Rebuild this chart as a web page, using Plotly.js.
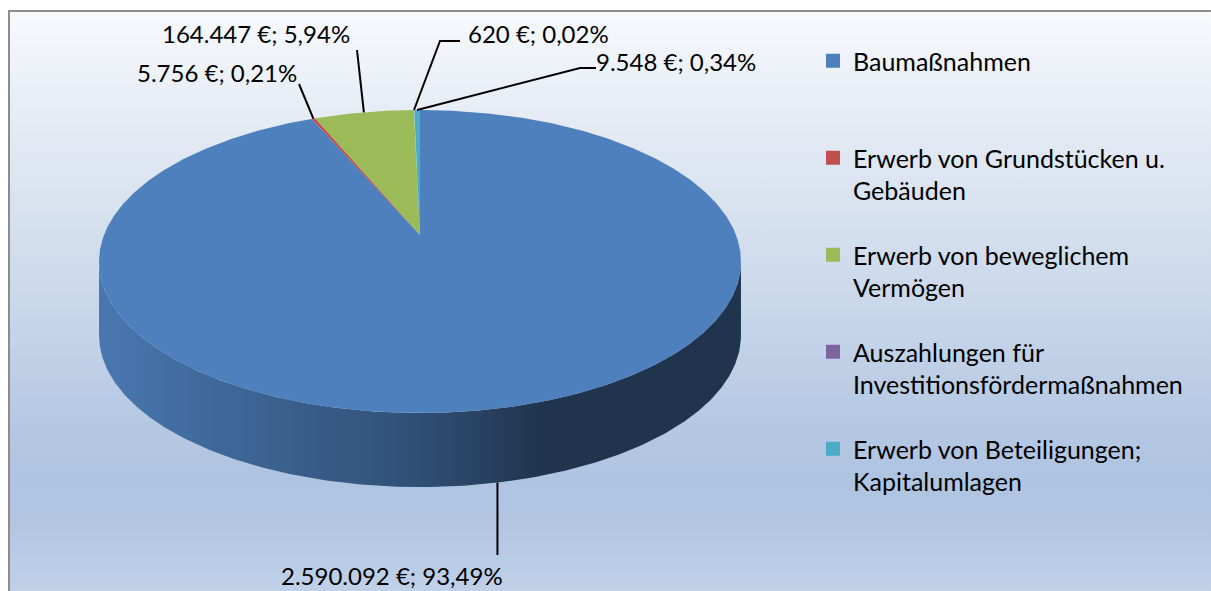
<!DOCTYPE html>
<html><head><meta charset="utf-8">
<script src="https://cdn.plot.ly/plotly-3.0.1.min.js"></script>
<style>
html,body{margin:0;padding:0;width:1211px;height:591px;overflow:hidden;background:#fff;}
#frame{position:absolute;left:8px;top:10px;width:1260px;height:581px;border-left:2px solid #8c8c8c;border-top:2px solid #8c8c8c;
background:linear-gradient(to bottom,#f7f9fd 0%,#e2e9f3 22%,#cbd9eb 48%,#b6c9e3 70%,#afc4e1 80%,#b2c6e2 88%,#c0d1e8 100%);}
#chart{position:absolute;left:0;top:0;width:1211px;height:591px;}
</style></head><body><div id="frame"></div><div id="chart"></div>
<script>
// ---- data ----
const categories = ["Baumaßnahmen","Erwerb von Grundstücken u. Gebäuden","Erwerb von beweglichem Vermögen","Auszahlungen für Investitionsfördermaßnahmen","Erwerb von Beteiligungen; Kapitalumlagen"];
const legendLabels = ["Baumaßnahmen<br> ","Erwerb von Grundstücken u.<br>Gebäuden","Erwerb von beweglichem<br>Vermögen","Auszahlungen für<br>Investitionsfördermaßnahmen","Erwerb von Beteiligungen;<br>Kapitalumlagen"];
const values = [2590092, 5756, 164447, 620, 9548];
const colors = ["#4d80bc","#c0504d","#9bbb59","#8064a2","#4bacc6"];

// ---- geometry (pixel space, perspective-projected pie) ----
const G = {cx:420, cy:235, c:316, b:-105.76, k:0.175, depth:74};
const FONT = "Lato, 'Open Sans', sans-serif";
function proj(deg){
  const t = deg*Math.PI/180, u=Math.sin(t), v=Math.cos(t), d=1+G.k*v;
  return [G.cx + G.c*u/d, (G.cy + G.b*v)/d];
}
function shade(hex,f){
  const n=parseInt(hex.slice(1),16);
  const r=Math.round(((n>>16)&255)*f), g=Math.round(((n>>8)&255)*f), b=Math.round((n&255)*f);
  return `rgb(${r},${g},${b})`;
}
function fmtInt(n){return String(n).replace(/\B(?=(\d{3})+(?!\d))/g,".");}
const total = values.reduce((a,b)=>a+b,0);
const frontA = 90 + Math.asin(G.k)*180/Math.PI, frontB = 270 - Math.asin(G.k)*180/Math.PI;
const leftX = proj(frontB)[0], rightX = proj(frontA)[0];

const traces=[]; const tops=[]; const mids=[];
let cum=0;
values.forEach((val,i)=>{
  const a=cum/total*360, b=(cum+val)/total*360; cum+=val;
  const mid=(a+b)/2; mids.push(mid);
  // top face
  const n=Math.max(2,Math.ceil((b-a)/0.5));
  const xs=[G.cx], ys=[G.cy];
  for(let j=0;j<=n;j++){const p=proj(a+(b-a)*j/n); xs.push(p[0]); ys.push(p[1]);}
  xs.push(G.cx); ys.push(G.cy);
  tops.push({type:'scatter',mode:'lines',x:xs,y:ys,fill:'toself',fillcolor:colors[i],line:{width:0,color:colors[i]},hoverinfo:'skip',showlegend:false});
  // visible side
  const s=Math.max(a,frontA), e=Math.min(b,frontB);
  if(e>s){
    const m=Math.max(2,Math.ceil((e-s)/0.5)); const sx=[],sy=[];
    for(let j=0;j<=m;j++){const p=proj(s+(e-s)*j/m); sx.push(p[0]); sy.push(p[1]);}
    for(let j=m;j>=0;j--){const p=proj(s+(e-s)*j/m); sx.push(p[0]); sy.push(p[1]+G.depth);}
    traces.push({type:'scatter',mode:'lines',x:sx,y:sy,fill:'toself',line:{width:0,color:shade(colors[i],0.5)},
      fillgradient:{type:'horizontal',start:leftX,stop:rightX,
        colorscale:[[0,shade(colors[i],0.93)],[0.5,shade(colors[i],0.62)],[0.69,shade(colors[i],0.41)],[1,shade(colors[i],0.41)]]},
      hoverinfo:'skip',showlegend:false});
  }
});
tops.forEach(t=>traces.push(t));

// ---- data labels with leader lines ----
const labelText = values.map(v=>fmtInt(v)+" €; "+(v/total*100).toFixed(2).replace(".",",")+"%");
const labelPos = [
  {x:392,y:575, pts:[[null,555]]},
  {x:217,y:72,  pts:[[299,84]]},
  {x:256,y:33,  pts:[[357,50]]},
  {x:538,y:33,  pts:[[440,41],[460,41]]},
  {x:676,y:61,  pts:[[580,68],[596,68]]}
];
const annotations=[];
values.forEach((v,i)=>{
  const mid=mids[i]; let p=proj(mid);
  if(mid>frontA && mid<frontB) p=[p[0],p[1]+G.depth];
  const L=labelPos[i];
  const lx=[p[0]], ly=[p[1]];
  L.pts.forEach(q=>{lx.push(q[0]===null?p[0]:q[0]); ly.push(q[1]);});
  traces.push({type:'scatter',mode:'lines',x:lx,y:ly,line:{color:'#000',width:2},hoverinfo:'skip',showlegend:false});
  annotations.push({x:L.x,y:L.y,xref:'x',yref:'y',text:labelText[i],showarrow:false,font:{family:FONT,size:24,color:'#000'}});
});

// ---- legend entries ----
categories.forEach((c,i)=>{
  traces.push({type:'scatter',mode:'markers',x:[null],y:[null],name:legendLabels[i],legendgroup:'g'+i,
    marker:{symbol:'square',size:14,color:colors[i]},hoverinfo:'skip'});
});

const layout={
  width:1211,height:591,margin:{l:0,r:0,t:0,b:0},
  paper_bgcolor:'rgba(0,0,0,0)',plot_bgcolor:'rgba(0,0,0,0)',
  xaxis:{range:[0,1211],visible:false,fixedrange:true},
  yaxis:{range:[591,0],visible:false,fixedrange:true},
  showlegend:true,
  legend:{x:813/1211,y:1-38/591,xanchor:'left',yanchor:'top',valign:'top',tracegroupgap:29,
    font:{family:FONT,size:25,color:'#000'},bgcolor:'rgba(0,0,0,0)',borderwidth:0},
  annotations:annotations
};
Plotly.newPlot('chart',traces,layout,{staticPlot:true,displayModeBar:false});
</script></body></html>
